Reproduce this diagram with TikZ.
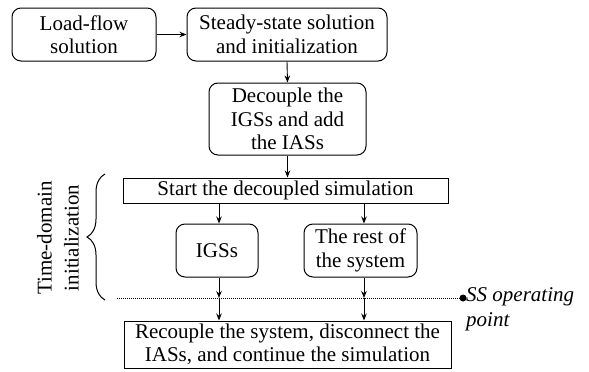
\documentclass[tikz,border=0pt]{standalone}
\usepackage{fontspec}
\setmainfont{Liberation Serif}
\usetikzlibrary{arrows.meta,decorations.pathreplacing}
\begin{document}
\begin{tikzpicture}[x=1pt,y=-1pt,
  every node/.style={font=\fontsize{21}{23.5}\selectfont, inner sep=0pt, align=center},
  rbox/.style={draw, line width=1pt, rounded corners=9pt},
  sbox/.style={draw, line width=1pt},
  arr/.style={line width=0.9pt, -{Stealth[length=7pt,width=5.5pt]}},
]
\useasboundingbox (0,0) rectangle (589,372);
\node[rbox, minimum width=144pt, minimum height=53pt] (lf) at (84,34.5) {Load-flow\\solution};
\node[rbox, minimum width=200pt, minimum height=53pt] (ss) at (287,34.5) {Steady-state solution\\and initialization};
\node[rbox, minimum width=157pt, minimum height=72pt] (dec) at (287.5,119) {Decouple the\\IGSs and add\\the IASs};
\node[sbox, minimum width=325pt, minimum height=25pt] (start) at (285.5,190.5) {Start the decoupled simulation};
\node[rbox, minimum width=82pt, minimum height=53pt] (igs) at (217,250.5) {IGSs};
\node[rbox, minimum width=113pt, minimum height=53pt] (rest) at (360.5,250.5) {The rest of\\the system};
\node[sbox, minimum width=327pt, minimum height=47pt] (rec) at (287.5,344.5) {Recouple the system, disconnect the\\IASs, and continue the simulation};

\coordinate (dl) at (117,298);
\node[circle, fill, minimum size=7pt] (dot) at (463,298) {};
\draw[line width=0.6pt, dash pattern=on 1pt off 1pt] (dl) -- (dot.center);
\node[anchor=west, align=left, font=\fontsize{21}{25}\selectfont\itshape] (ssop) at (466,309) {SS operating\\point};

\coordinate (i1) at (219,298);
\coordinate (r1) at (364,298);

\draw[arr] (lf) -- (ss);
\draw[arr] (ss.south) -- (dec.north);
\draw[arr] (dec.south) -- (start.north -| dec.south);
\draw[arr] (start.south -| i1) -- (igs.north -| i1);
\draw[arr] (start.south -| r1) -- (rest.north -| r1);
\draw[arr] (igs.south -| i1) -- (i1);
\draw[arr] (rest.south -| r1) -- (r1);
\draw[arr] (i1) -- (rec.north -| i1);
\draw[arr] (r1) -- (rec.north -| r1);

\coordinate (b1) at (105,300);
\coordinate (b2) at (105,174);
\draw[line width=1pt, decorate, decoration={brace, amplitude=18pt, aspect=0.5}] (b1) -- (b2);
\node[rotate=90, font=\fontsize{21}{27}\selectfont] (td) at (58,238) {Time-domain\\initialization};
\end{tikzpicture}
\end{document}
